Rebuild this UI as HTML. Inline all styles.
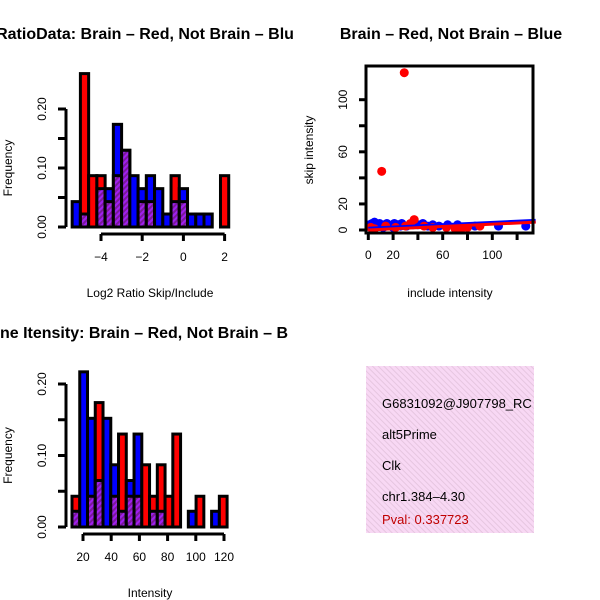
<!DOCTYPE html>
<html><head><meta charset="utf-8"><style>
body{margin:0;background:#fff}
svg{display:block;font-family:"Liberation Sans",sans-serif}
</style></head><body>
<svg id="c" width="600" height="600" xmlns="http://www.w3.org/2000/svg">
<defs>
<pattern id="hatch" width="4" height="4" patternUnits="userSpaceOnUse" patternTransform="rotate(45)">
<rect width="4" height="4" fill="#a020f0"/><rect width="2" height="4" fill="#7a1a9a"/></pattern>
<pattern id="pink" width="4" height="4" patternUnits="userSpaceOnUse" patternTransform="rotate(-45)">
<rect width="4" height="4" fill="#f8d8f4"/><rect width="1" height="4" fill="#e6c6e0"/></pattern>
</defs>
<text x="145" y="39" font-size="16" font-weight="bold" text-anchor="middle">RatioData: Brain – Red, Not Brain – Blu</text>
<text x="451" y="39" font-size="16" font-weight="bold" text-anchor="middle">Brain – Red, Not Brain – Blue</text>
<text x="144" y="338" font-size="16" font-weight="bold" text-anchor="middle">ne Itensity: Brain – Red, Not Brain – B</text>
<g id="g1"></g><g id="g2"></g><g id="g3"></g>
<g>
<rect x="366" y="366" width="168" height="167" fill="url(#pink)"/>
<svg x="366" y="366" width="168" height="167"><g font-size="13">
<text x="16" y="42">G6831092@J907798_RC</text>
<text x="16" y="73">alt5Prime</text>
<text x="16" y="104">Clk</text>
<text x="16" y="135">chr1.384–4.30</text>
<text x="16" y="158" fill="#c00000">Pval: 0.337723</text>
</g></svg></g>
</svg>
<script>
const NS="http://www.w3.org/2000/svg";
// histogram 1 data
const ratioStart=-5.4, ratioWidth=0.4;
const ratioBlue=[0.043,0.022,0,0.065,0.065,0.174,0.13,0.087,0.065,0.087,0.065,0.022,0.043,0.065,0.022,0.022,0.022,0,0];
const ratioRed=[0,0.26,0.087,0.087,0.043,0.087,0.13,0,0.043,0.043,0,0,0.087,0.043,0,0,0,0,0.087];
const ratioXTicks=[-4,-2,0,2];
const ratioYTicks=[0,0.05,0.1,0.15,0.2];
const ratioYLabels=["0.00","","0.10","","0.20"];
// histogram 2 data
const intStart=12.2, intWidth=5.5;
const intBlue=[0.022,0.217,0.152,0.065,0.152,0.087,0.022,0.065,0.13,0,0.022,0.022,0,0,0,0.022,0,0,0.022,0];
const intRed=[0.043,0,0.043,0.174,0,0.043,0.13,0.043,0.043,0.087,0.043,0.087,0.043,0.13,0,0,0.043,0,0,0.043];
const intXTicks=[20,40,60,80,100,120];
const intYTicks=[0,0.05,0.1,0.15,0.2];
const intYLabels=["0.00","","0.10","","0.20"];
// scatter data
const redX=[10.8,29,2,5,14,22,30,34,37,45,52,63,70,75,80,90];
const redY=[45,120.7,2,1,3,2,3,5,8,3,2,2,1,1,2,3];
const blueX=[1,3,5,7,9,11,13,15,18,21,24,27,31,36,40,44,48,52,57,64,72,86,105,127,4,8,12,16,20,26];
const blueY=[4,5,6,4,5,3,4,5,3,5,4,5,3,4,4,5,3,4,3,4,4,3,3,3,2,3,2,4,2,3];
const blueFit=[[0,1],[135,7]];
const redFit=[[0,0],[135,6]];
const scXTicks=[0,20,40,60,80,100,120];
const scXLabels=["0","20","","60","","100",""];
const scYTicks=[0,20,40,60,80,100];
const scYLabels=["0","20","","60","","100"];

function el(p,t,a){const e=document.createElementNS(NS,t);for(const k in a)e.setAttribute(k,a[k]);p.appendChild(e);return e;}
function vtext(p,x,y,s){const t=el(p,"text",{x:x,y:y,"font-size":12,"text-anchor":"middle",transform:`rotate(-90 ${x} ${y})`});t.textContent=s;return t;}

function hist(gid,start,w,blue,red,xt,yt,yl,sx,sy,xlab){
  const g=document.getElementById(gid);
  for(let i=0;i<blue.length;i++){
    const x0=sx(start+i*w),x1=sx(start+(i+1)*w);
    const b=blue[i],r=red[i],m=Math.min(b,r),M=Math.max(b,r);
    if(M>0){const top=b>=r?"blue":"red";
      const e=el(g,"rect",{x:x0,y:sy(M),width:x1-x0,height:sy(0)-sy(M),fill:top,stroke:"#000","stroke-width":3});
      
      }
    if(m>0){const e=el(g,"rect",{x:x0,y:sy(m),width:x1-x0,height:sy(0)-sy(m),fill:"url(#hatch)",stroke:"#000","stroke-width":3});
      
      }
  }
  const ya=el(g,"g",{});
  
  
  el(ya,"line",{x1:66,x2:66,y1:sy(yt[0]),y2:sy(yt[yt.length-1]),stroke:"#000","stroke-width":3});
  yt.forEach((v,i)=>{el(ya,"line",{x1:58,x2:66,y1:sy(v),y2:sy(v),stroke:"#000","stroke-width":3});if(yl[i])vtext(ya,46,sy(v),yl[i]);});
  const xa=el(g,"g",{});
  
  
  const ay=sy(0)+7;
  el(xa,"line",{x1:sx(xt[0]),x2:sx(xt[xt.length-1]),y1:ay,y2:ay,stroke:"#000","stroke-width":3});
  xt.forEach(v=>{el(xa,"line",{x1:sx(v),x2:sx(v),y1:ay,y2:ay+7,stroke:"#000","stroke-width":3});const t=el(xa,"text",{x:sx(v),y:ay+27,"font-size":12,"text-anchor":"middle"});t.textContent=String(v).replace("-","−");});
  const yt2=vtext(g,12,(sy(0)+sy(yt[yt.length-1]))/2,"Frequency");
  
  
  const xl=el(g,"text",{x:150,y:ay+63,"font-size":12,"text-anchor":"middle"});xl.textContent=xlab;
  
  
}
hist("g1",ratioStart,ratioWidth,ratioBlue,ratioRed,ratioXTicks,ratioYTicks,ratioYLabels,
  v=>101+(v+4)*20.6, v=>227-v*590,"Log2 Ratio Skip/Include");
hist("g2",intStart,intWidth,intBlue,intRed,intXTicks,intYTicks,intYLabels,
  v=>83+(v-20)*1.41, v=>527-v*715,"Intensity");

// scatter
(function(){
  const g=document.getElementById("g3");
  const sx=v=>368.3+v*1.24, sy=v=>230-v*1.303;
  for(let i=0;i<blueX.length;i++){const c=el(g,"circle",{cx:sx(blueX[i]),cy:sy(blueY[i]),r:4.5,fill:"blue"});
    
    }
  for(let i=0;i<redX.length;i++){const c=el(g,"circle",{cx:sx(redX[i]),cy:sy(redY[i]),r:4.5,fill:"red"});
    
    }
  const bl=el(g,"line",{x1:sx(blueFit[0][0]),y1:sy(blueFit[0][1]),x2:sx(blueFit[1][0]),y2:sy(blueFit[1][1]),stroke:"blue","stroke-width":4});
  
  
  const rl=el(g,"line",{x1:sx(redFit[0][0]),y1:sy(redFit[0][1]),x2:sx(redFit[1][0]),y2:sy(redFit[1][1]),stroke:"red","stroke-width":3});
  
  
  const f=el(g,"rect",{x:366,y:66,width:167,height:167,fill:"none",stroke:"#000","stroke-width":3});
  
  
  scXTicks.forEach((v,i)=>{el(g,"line",{x1:sx(v),x2:sx(v),y1:233,y2:240,stroke:"#000","stroke-width":3});
    if(scXLabels[i]){const t=el(g,"text",{x:sx(v),y:259,"font-size":12,"text-anchor":"middle"});t.textContent=scXLabels[i];}});
  scYTicks.forEach((v,i)=>{el(g,"line",{x1:359,x2:366,y1:sy(v),y2:sy(v),stroke:"#000","stroke-width":3});
    if(scYLabels[i])vtext(g,347,sy(v),scYLabels[i]);});
  const xt=el(g,"text",{x:450,y:297,"font-size":12,"text-anchor":"middle"});xt.textContent="include intensity";
  
  
  const yt=vtext(g,313,150,"skip intensity");
  
  
})();
</script>
</body></html>
